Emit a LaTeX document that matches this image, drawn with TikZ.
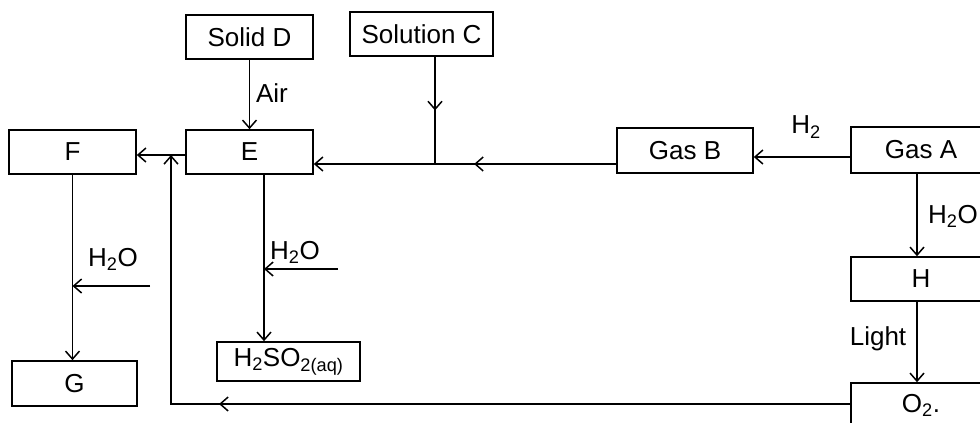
\documentclass[tikz,border=0pt]{standalone}
\usepackage{fontspec}
\setmainfont{Liberation Sans}
\usetikzlibrary{arrows.meta,decorations.markings}

\begin{document}
\begin{tikzpicture}[x=1pt,y=-1pt,
    font=\fontsize{26}{30}\selectfont,
    line width=1.6pt,
    >={Straight Barb[length=8pt,width=14pt,line width=1.5pt]},
    box/.style={draw,minimum height=44pt,inner sep=0pt},
    lbl/.style={inner sep=0pt},
    midarrow/.style={postaction={decorate},
        decoration={markings,mark=at position #1 with {\arrow{>}}}}]

\useasboundingbox (0,0) rectangle (980,423);

% Boxes
\node[box,minimum width=127pt] (solidD) at (249.5,37) {Solid D};
\node[box,minimum width=143pt] (solC) at (421.5,34) {Solution C};
\node[box,minimum width=127pt] (E) at (249.5,152) {E};
\node[box,minimum width=127pt] (F) at (72.5,152) {F};
\node[box,minimum width=125pt,minimum height=45pt] (G) at (74.5,383.5) {G};
\node[box,minimum width=143pt,minimum height=39pt] (acid) at (288.5,361.5)
    {H\textsubscript{2}SO\textsubscript{2(aq)}};
\node[box,minimum width=136pt,minimum height=45pt] (gasB) at (685,150.5) {Gas B};
\node[box,minimum width=140pt,minimum height=46pt] (gasA) at (921,150) {Gas A};
\node[box,minimum width=140pt] (H) at (921,279) {H};
\node[box,minimum width=140pt] (O2) at (921,405) {O\textsubscript{2}.};

% Labels
\node[lbl] (air) at (272,93) {Air};
\node[lbl] (h2) at (806,127) {H\textsubscript{2}};
\node[lbl] (h2oA) at (953,216) {H\textsubscript{2}O};
\node[lbl] (light) at (878,339) {Light};
\node[lbl] (h2oF) at (113,259) {H\textsubscript{2}O};
\node[lbl] (h2oE) at (295,252) {H\textsubscript{2}O};

% Junctions
\coordinate (jC) at (435,164);
\coordinate (jF) at (171,155);
\coordinate (jO) at (171,404);
\coordinate (jA) at (800,157);
\coordinate (eS) at ([xshift=14.5pt]E.south);
\coordinate (aS) at ([xshift=-4pt]gasA.south);
\coordinate (wF) at (150,286);
\coordinate (wE) at (338,269);

% Solid D and Solution C
\draw[->] (solidD) -- (E);
\draw[midarrow=0.5] (solC.south -| jC) -- (jC);

% Gas A to E
\draw[->] (gasA.west |- jA) -- (gasB.east |- jA);
\draw[->,midarrow=0.47] (gasB.west |- jC) -- (E.east |- jC);

% E to F and G
\draw[->] (E.west |- jF) -- (F.east |- jF);
\draw[->] (F.south) -- (F.south |- G.north);
\draw[->] (wF) -- (wF -| F.south);

% E to acid
\draw[->] (eS) -- (eS |- acid.north);
\draw[->] (wE) -- (wE -| eS);

% Gas A to H to O2
\draw[->] (aS) -- (aS |- H.north);
\draw[->] (aS |- H.south) -- (aS |- O2.north);

% O2 back
\draw[->,midarrow=0.68] (O2.west |- jO) -- (jO) -- (jF);

\end{tikzpicture}
\end{document}
